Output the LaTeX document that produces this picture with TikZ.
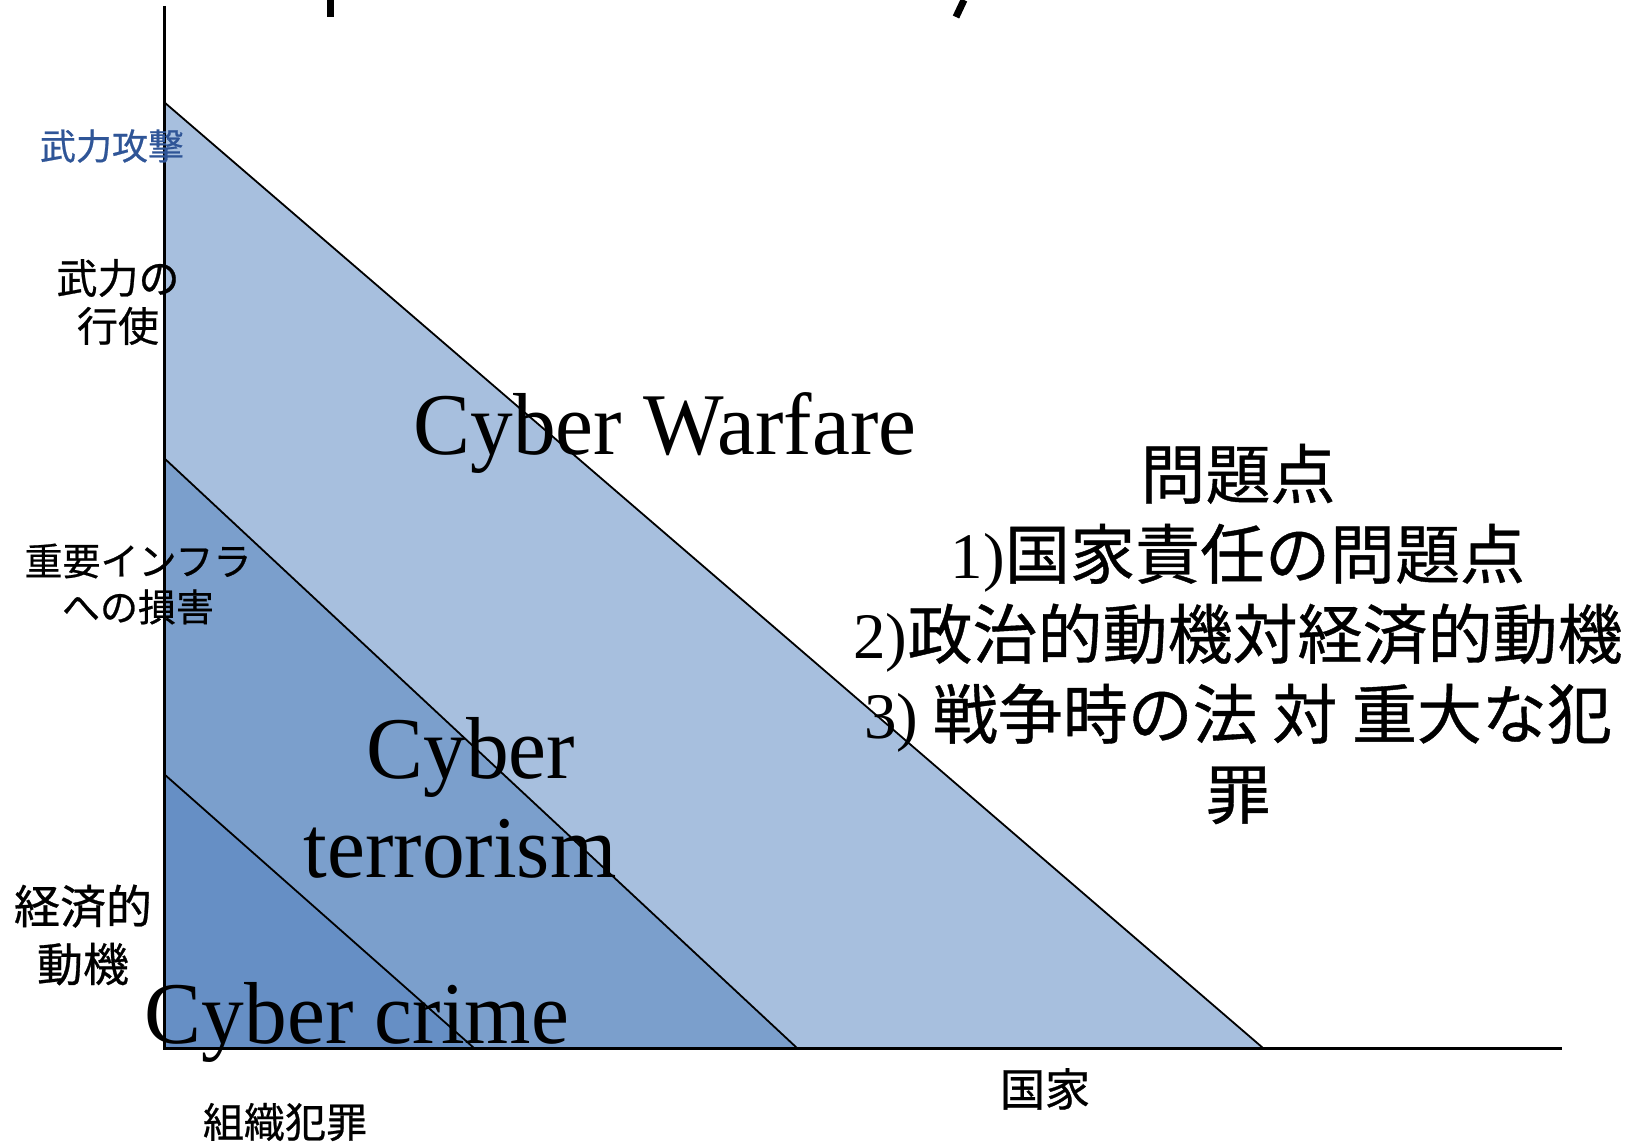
\documentclass[tikz,border=0pt]{standalone}
\usepackage{fontspec}
\setmainfont{Liberation Serif}
\newfontfamily\serifc[FakeStretch=0.97]{Liberation Serif}
\newfontfamily\jp[FakeBold=0.6]{Noto Sans CJK JP}
\definecolor{warfare}{RGB}{167,191,222}
\definecolor{terror}{RGB}{123,159,204}
\definecolor{crime}{RGB}{102,143,197}
\definecolor{bluelabel}{RGB}{47,85,151}
\begin{document}
\begin{tikzpicture}[x=1pt,y=-1pt,
  diag/.style={black,line width=1.8pt},
  axisline/.style={black,line width=3pt},
  frag/.style={black,line width=7pt},
  jplabel/.style={align=center,inner sep=0pt,font=\jp},
  bigserif/.style={align=center,inner sep=0pt}]
\useasboundingbox (0,0) rectangle (1634,1142);
\coordinate (O) at (164,1048);
\coordinate (Ytop) at (164,6);
\coordinate (Xend) at (1562,1048);
\coordinate (Wtop) at (164,102);
\coordinate (Wbot) at (1263,1048);
\coordinate (Ttop) at (164,458);
\coordinate (Tbot) at (797,1048);
\coordinate (Ctop) at (164,774);
\coordinate (Cbot) at (474,1048);
% title fragments
\coordinate (f1a) at (330,0); \coordinate (f1b) at (330,17);
\coordinate (f2a) at (964,0); \coordinate (f2b) at (956,17);
\draw[frag] (f1a) -- (f1b);
\draw[frag] (f2a) -- (f2b);
% triangles
\fill[warfare] (O) -- (Wtop) -- (Wbot) -- cycle;
\fill[terror] (O) -- (Ttop) -- (Tbot) -- cycle;
\fill[crime] (O) -- (Ctop) -- (Cbot) -- cycle;
\draw[diag] (Wtop) -- (Wbot);
\draw[diag] (Ttop) -- (Tbot);
\draw[diag] (Ctop) -- (Cbot);
\draw[axisline] (Ytop) -- (O) -- (Xend);
% left labels
\node[jplabel,text=bluelabel,font=\jp\fontsize{36}{40}\selectfont] (armed) at (112,146) {武力攻撃};
\node[jplabel,font=\jp\fontsize{41}{48}\selectfont] (force) at (118,302) {武力の\\行使};
\node[jplabel,font=\jp\fontsize{38}{46}\selectfont] (infra) at (138,584) {重要インフラ\\への損害};
\node[jplabel,font=\jp\fontsize{46}{58}\selectfont] (econ) at (83,935) {経済的\\動機};
\node[jplabel,font=\jp\fontsize{41}{45}\selectfont] (org) at (285,1122) {組織犯罪};
\node[jplabel,font=\jp\fontsize{45}{48}\selectfont] (state) at (1045,1089) {国家};
% region labels
\node[bigserif,font=\serifc\fontsize{88}{99}\selectfont] (cw) at (665,433) {Cyber Warfare};
\node[bigserif,font=\serifc\fontsize{88}{99}\selectfont] (ct) at (460,798) {\hspace*{22pt}Cyber\\terrorism};
\node[bigserif,font=\serifc\fontsize{88}{99}\selectfont] (cc) at (357,1022) {Cyber crime};
% issues block
\node[jplabel,font=\jp\fontsize{65}{80}\selectfont] (issues) at (1238,634)
  {問題点\\{\rmfamily 1)}国家責任の問題点\\{\rmfamily 2)}政治的動機対経済的動機\\{\rmfamily 3)} 戦争時の法 対 重大な犯\\罪};
\end{tikzpicture}
\end{document}
